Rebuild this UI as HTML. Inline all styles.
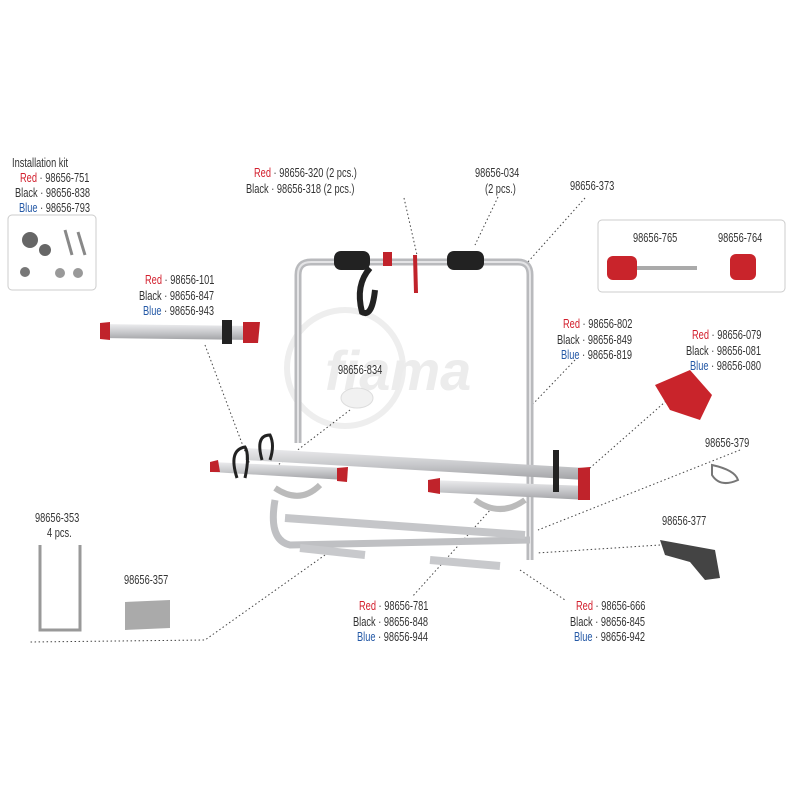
<!DOCTYPE html>
<html><head><meta charset="utf-8"><style>
body{margin:0;background:#fff;}
#c{position:relative;width:800px;height:800px;overflow:hidden;font-family:"Liberation Sans",sans-serif;font-size:12.5px;color:#333;}
.t{position:absolute;white-space:nowrap;line-height:14px;transform:scaleX(0.74);transform-origin:0 0;}
.r{color:#d3202e}.b{color:#2559a6}
svg{position:absolute;left:0;top:0}
</style></head><body><div id="c">
<svg width="800" height="800" viewBox="0 0 800 800">
<defs><linearGradient id="al" x1="0" y1="0" x2="0" y2="1"><stop offset="0" stop-color="#ececee"/><stop offset=".5" stop-color="#c9cacd"/><stop offset="1" stop-color="#a2a3a6"/></linearGradient></defs>
<!-- watermark -->
<circle cx="345" cy="368" r="58" fill="none" stroke="#eeeeee" stroke-width="6"/>
<text x="325" y="390" font-family="Liberation Sans" font-weight="bold" font-style="italic" font-size="56" fill="#ececec">fiama</text>
<!-- dotted leaders -->
<g stroke="#444" stroke-width="1" stroke-dasharray="1.5 2.5" fill="none">
<path d="M205 345 L252 470"/><path d="M404 198 L417 255"/><path d="M498 197 L475 245"/>
<path d="M585 198 L527 263"/><path d="M575 360 L532 405"/><path d="M350 410 L278 465"/>
<path d="M740 450 L538 530"/><path d="M660 545 L537 553"/><path d="M325 555 L205 640 L30 642"/>
<path d="M492 508 L412 597"/><path d="M520 570 L565 600"/><path d="M690 380 L590 468"/>
</g>
<!-- frame -->
<path d="M298 443 L298 275 Q298 262 311 262 L518 262 Q530 262 530 275 L530 560" fill="none" stroke="#b9babd" stroke-width="7"/>
<path d="M298 443 L298 275 Q298 262 311 262 L518 262 Q530 262 530 275 L530 560" fill="none" stroke="#e4e4e6" stroke-width="2"/>
<rect x="334" y="251" width="36" height="19" rx="7" fill="#222"/>
<rect x="447" y="251" width="37" height="19" rx="7" fill="#222"/>
<path d="M370 268 Q355 285 362 312 Q372 318 375 290" fill="none" stroke="#222" stroke-width="6"/>
<rect x="383" y="252" width="9" height="14" fill="#c0232b"/>
<path d="M415 255 L416 293" stroke="#c0232b" stroke-width="4"/>
<!-- lower frame -->
<path d="M275 500 Q268 540 290 545 L530 540" fill="none" stroke="#bfc0c3" stroke-width="7"/>
<path d="M285 518 L525 535" stroke="#c5c6c9" stroke-width="8"/>
<path d="M300 548 L365 555" stroke="#c8c9cc" stroke-width="8"/>
<path d="M430 560 L500 566" stroke="#c8c9cc" stroke-width="8"/>
<path d="M275 488 Q300 505 320 485" fill="none" stroke="#bbb" stroke-width="6"/>
<path d="M475 500 Q500 518 525 500" fill="none" stroke="#bbb" stroke-width="6"/>
<!-- rails -->
<polygon points="245,448 585,468 585,480 245,460" fill="url(#al)"/>
<polygon points="212,462 345,468 345,480 212,472" fill="url(#al)"/>
<polygon points="430,480 588,486 588,500 430,492" fill="url(#al)"/>
<polygon points="210,462 218,460 220,472 210,472" fill="#c0232b"/>
<polygon points="337,468 348,467 347,482 337,481" fill="#c0232b"/>
<polygon points="428,480 440,478 440,494 428,492" fill="#c0232b"/>
<polygon points="578,468 590,467 590,500 578,500" fill="#c0232b"/>
<path d="M237 478 Q228 450 245 447 Q250 455 245 478" fill="none" stroke="#222" stroke-width="3"/>
<path d="M262 460 Q255 435 270 435 Q275 445 270 460" fill="none" stroke="#222" stroke-width="3"/>
<rect x="553" y="450" width="6" height="42" fill="#222"/>
<!-- 834 -->
<ellipse cx="357" cy="398" rx="16" ry="10" fill="#f1f1f1" stroke="#ddd"/>
<!-- 101 part -->
<polygon points="100,324 258,326 258,340 100,338" fill="url(#al)"/>
<polygon points="100,323 110,322 110,340 100,339" fill="#c0232b"/>
<polygon points="243,322 260,322 258,343 243,343" fill="#c0232b"/>
<rect x="222" y="320" width="10" height="24" fill="#222"/>
<!-- installation kit box -->
<rect x="8" y="215" width="88" height="75" rx="4" fill="none" stroke="#ccc"/>
<circle cx="30" cy="240" r="8" fill="#666"/><circle cx="45" cy="250" r="6" fill="#666"/>
<circle cx="25" cy="272" r="5" fill="#777"/><circle cx="60" cy="273" r="5" fill="#999"/><circle cx="78" cy="273" r="5" fill="#999"/>
<path d="M65 230 L72 255 M78 232 L85 255" stroke="#888" stroke-width="3"/>
<!-- right knobs box -->
<rect x="598" y="220" width="187" height="72" rx="4" fill="none" stroke="#ccc"/>
<rect x="635" y="266" width="62" height="4" fill="#aaa"/>
<rect x="607" y="256" width="30" height="24" rx="6" fill="#c9242b"/>
<rect x="730" y="254" width="26" height="26" rx="6" fill="#c9242b"/>
<!-- 079 bracket -->
<polygon points="655,385 690,370 712,395 700,420 670,410" fill="#c9242b"/>
<!-- 379 clip -->
<path d="M712 465 Q735 470 738 480 Q720 488 712 475 Z" fill="none" stroke="#777" stroke-width="2"/>
<!-- 377 -->
<polygon points="660,540 715,550 720,578 705,580 690,562 665,555" fill="#444"/>
<!-- 353 -->
<path d="M40 545 L40 630 L80 630 L80 545" fill="none" stroke="#999" stroke-width="3"/>
<!-- 357 -->
<polygon points="125,602 170,600 170,628 125,630" fill="#aaa"/>
</svg>
<div class="t" style="left:12px;top:156px">Installation kit</div>
<div class="t" style="left:20px;top:171px"><span class="r">Red</span> · 98656-751</div>
<div class="t" style="left:15px;top:186px">Black · 98656-838</div>
<div class="t" style="left:19px;top:201px"><span class="b">Blue</span> · 98656-793</div>
<div class="t" style="left:254px;top:166px"><span class="r">Red</span> · 98656-320 (2 pcs.)</div>
<div class="t" style="left:246px;top:182px">Black · 98656-318 (2 pcs.)</div>
<div class="t" style="left:475px;top:166px">98656-034</div>
<div class="t" style="left:485px;top:182px">(2 pcs.)</div>
<div class="t" style="left:570px;top:179px">98656-373</div>
<div class="t" style="left:633px;top:231px">98656-765</div>
<div class="t" style="left:718px;top:231px">98656-764</div>
<div class="t" style="left:145px;top:273px"><span class="r">Red</span> · 98656-101</div>
<div class="t" style="left:139px;top:289px">Black · 98656-847</div>
<div class="t" style="left:143px;top:304px"><span class="b">Blue</span> · 98656-943</div>
<div class="t" style="left:563px;top:317px"><span class="r">Red</span> · 98656-802</div>
<div class="t" style="left:557px;top:333px">Black · 98656-849</div>
<div class="t" style="left:561px;top:348px"><span class="b">Blue</span> · 98656-819</div>
<div class="t" style="left:692px;top:328px"><span class="r">Red</span> · 98656-079</div>
<div class="t" style="left:686px;top:344px">Black · 98656-081</div>
<div class="t" style="left:690px;top:359px"><span class="b">Blue</span> · 98656-080</div>
<div class="t" style="left:338px;top:363px">98656-834</div>
<div class="t" style="left:705px;top:436px">98656-379</div>
<div class="t" style="left:35px;top:511px">98656-353</div>
<div class="t" style="left:47px;top:526px">4 pcs.</div>
<div class="t" style="left:662px;top:514px">98656-377</div>
<div class="t" style="left:124px;top:573px">98656-357</div>
<div class="t" style="left:359px;top:599px"><span class="r">Red</span> · 98656-781</div>
<div class="t" style="left:353px;top:615px">Black · 98656-848</div>
<div class="t" style="left:357px;top:630px"><span class="b">Blue</span> · 98656-944</div>
<div class="t" style="left:576px;top:599px"><span class="r">Red</span> · 98656-666</div>
<div class="t" style="left:570px;top:615px">Black · 98656-845</div>
<div class="t" style="left:574px;top:630px"><span class="b">Blue</span> · 98656-942</div>
</div></body></html>
